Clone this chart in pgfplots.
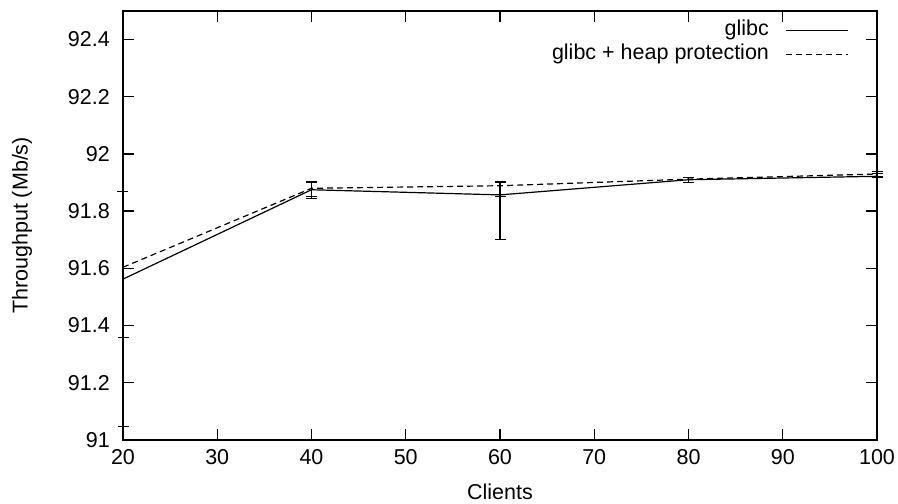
\documentclass[border=0pt]{standalone}
\usepackage{fontspec}
\setmainfont{Liberation Sans}
\usepackage{pgfplots}
\pgfplotsset{compat=1.18}

\newcommand{\chartfont}{\fontsize{21.5}{23}\selectfont}

\begin{document}
\begin{tikzpicture}
\begin{axis}[
    name=ax,
    scale only axis,
    width=754pt, height=429pt,
    xmin=20, xmax=100,
    ymin=91, ymax=92.5,
    xtick={20,30,40,50,60,70,80,90,100},
    ytick={91,91.2,91.4,91.6,91.8,92,92.2,92.4},
    tick pos=both,
    xticklabel pos=bottom,
    yticklabel pos=left,
    tick align=inside,
    major tick length=11pt,
    axis line style={line width=1.6pt},
    every tick/.style={black, line width=1.4pt},
    /pgf/number format/assume math mode=true,
    /pgf/number format/fixed,
    /pgf/number format/precision=1,
    ticklabel style={font=\chartfont},
    xticklabel style={inner sep=0pt, anchor=north, yshift=-9pt},
    yticklabel style={inner sep=0pt, anchor=east, xshift=-13pt},
    xlabel={Clients},
    ylabel={Throughput (Mb/s)},
    every axis x label/.style={at={(axis description cs:0.5,-0.121)}, anchor=center, font=\chartfont},
    every axis y label/.style={at={(axis description cs:-0.134,0.5)}, rotate=90, anchor=center, font=\chartfont},
    clip=false,
    legend plot pos=right,
    legend cell align=right,
    legend style={
        at={(rel axis cs:0.966,0.985)}, anchor=north east,
        draw=none, fill=none, font=\chartfont,
        row sep=3pt, column sep=15pt,
        nodes={inner sep=1pt, text height=15pt, text depth=4pt},
    },
    legend image code/.code={\draw[#1] (0pt,0pt) -- (62pt,0pt);},
]
% glibc
\addplot[black, line width=1.2pt, mark=none,
    error bars/.cd, y dir=both, y explicit,
    error bar style={solid, line width=1.2pt},
    error mark options={rotate=90, mark size=5.5pt, line width=1.2pt, solid}]
coordinates {
    (20,91.5625) += (0,0.3065) -= (0,0.5155)
    (40,91.875)  += (0,0.027)  -= (0,0.032)
    (60,91.857)  += (0,0.045)  -= (0,0.157)
    (80,91.910)  += (0,0.009)  -= (0,0.010)
    (100,91.922) += (0,0.010)  -= (0,0.003)
};
\addlegendentry{glibc}
% glibc + heap protection
\addplot[black, line width=1.2pt, mark=none, dash pattern=on 6pt off 4pt,
    error bars/.cd, y dir=both, y explicit,
    error bar style={solid, line width=1.2pt},
    error mark options={rotate=90, mark size=5.5pt, line width=1.2pt, solid}]
coordinates {
    (20,91.604)  += (0,0.265)  -= (0,0.246)
    (40,91.880)  += (0,0.022)  -= (0,0.030)
    (60,91.889)  += (0,0.013)  -= (0,0.039)
    (80,91.912)  += (0,0.007)  -= (0,0.012)
    (100,91.930) += (0,0.009)  -= (0,0.008)
};
\addlegendentry{glibc + heap protection}
\end{axis}
\pgfresetboundingbox
\path ([xshift=-123pt,yshift=-64pt]ax.south west) rectangle ([xshift=21pt,yshift=11pt]ax.north east);
\end{tikzpicture}
\end{document}
